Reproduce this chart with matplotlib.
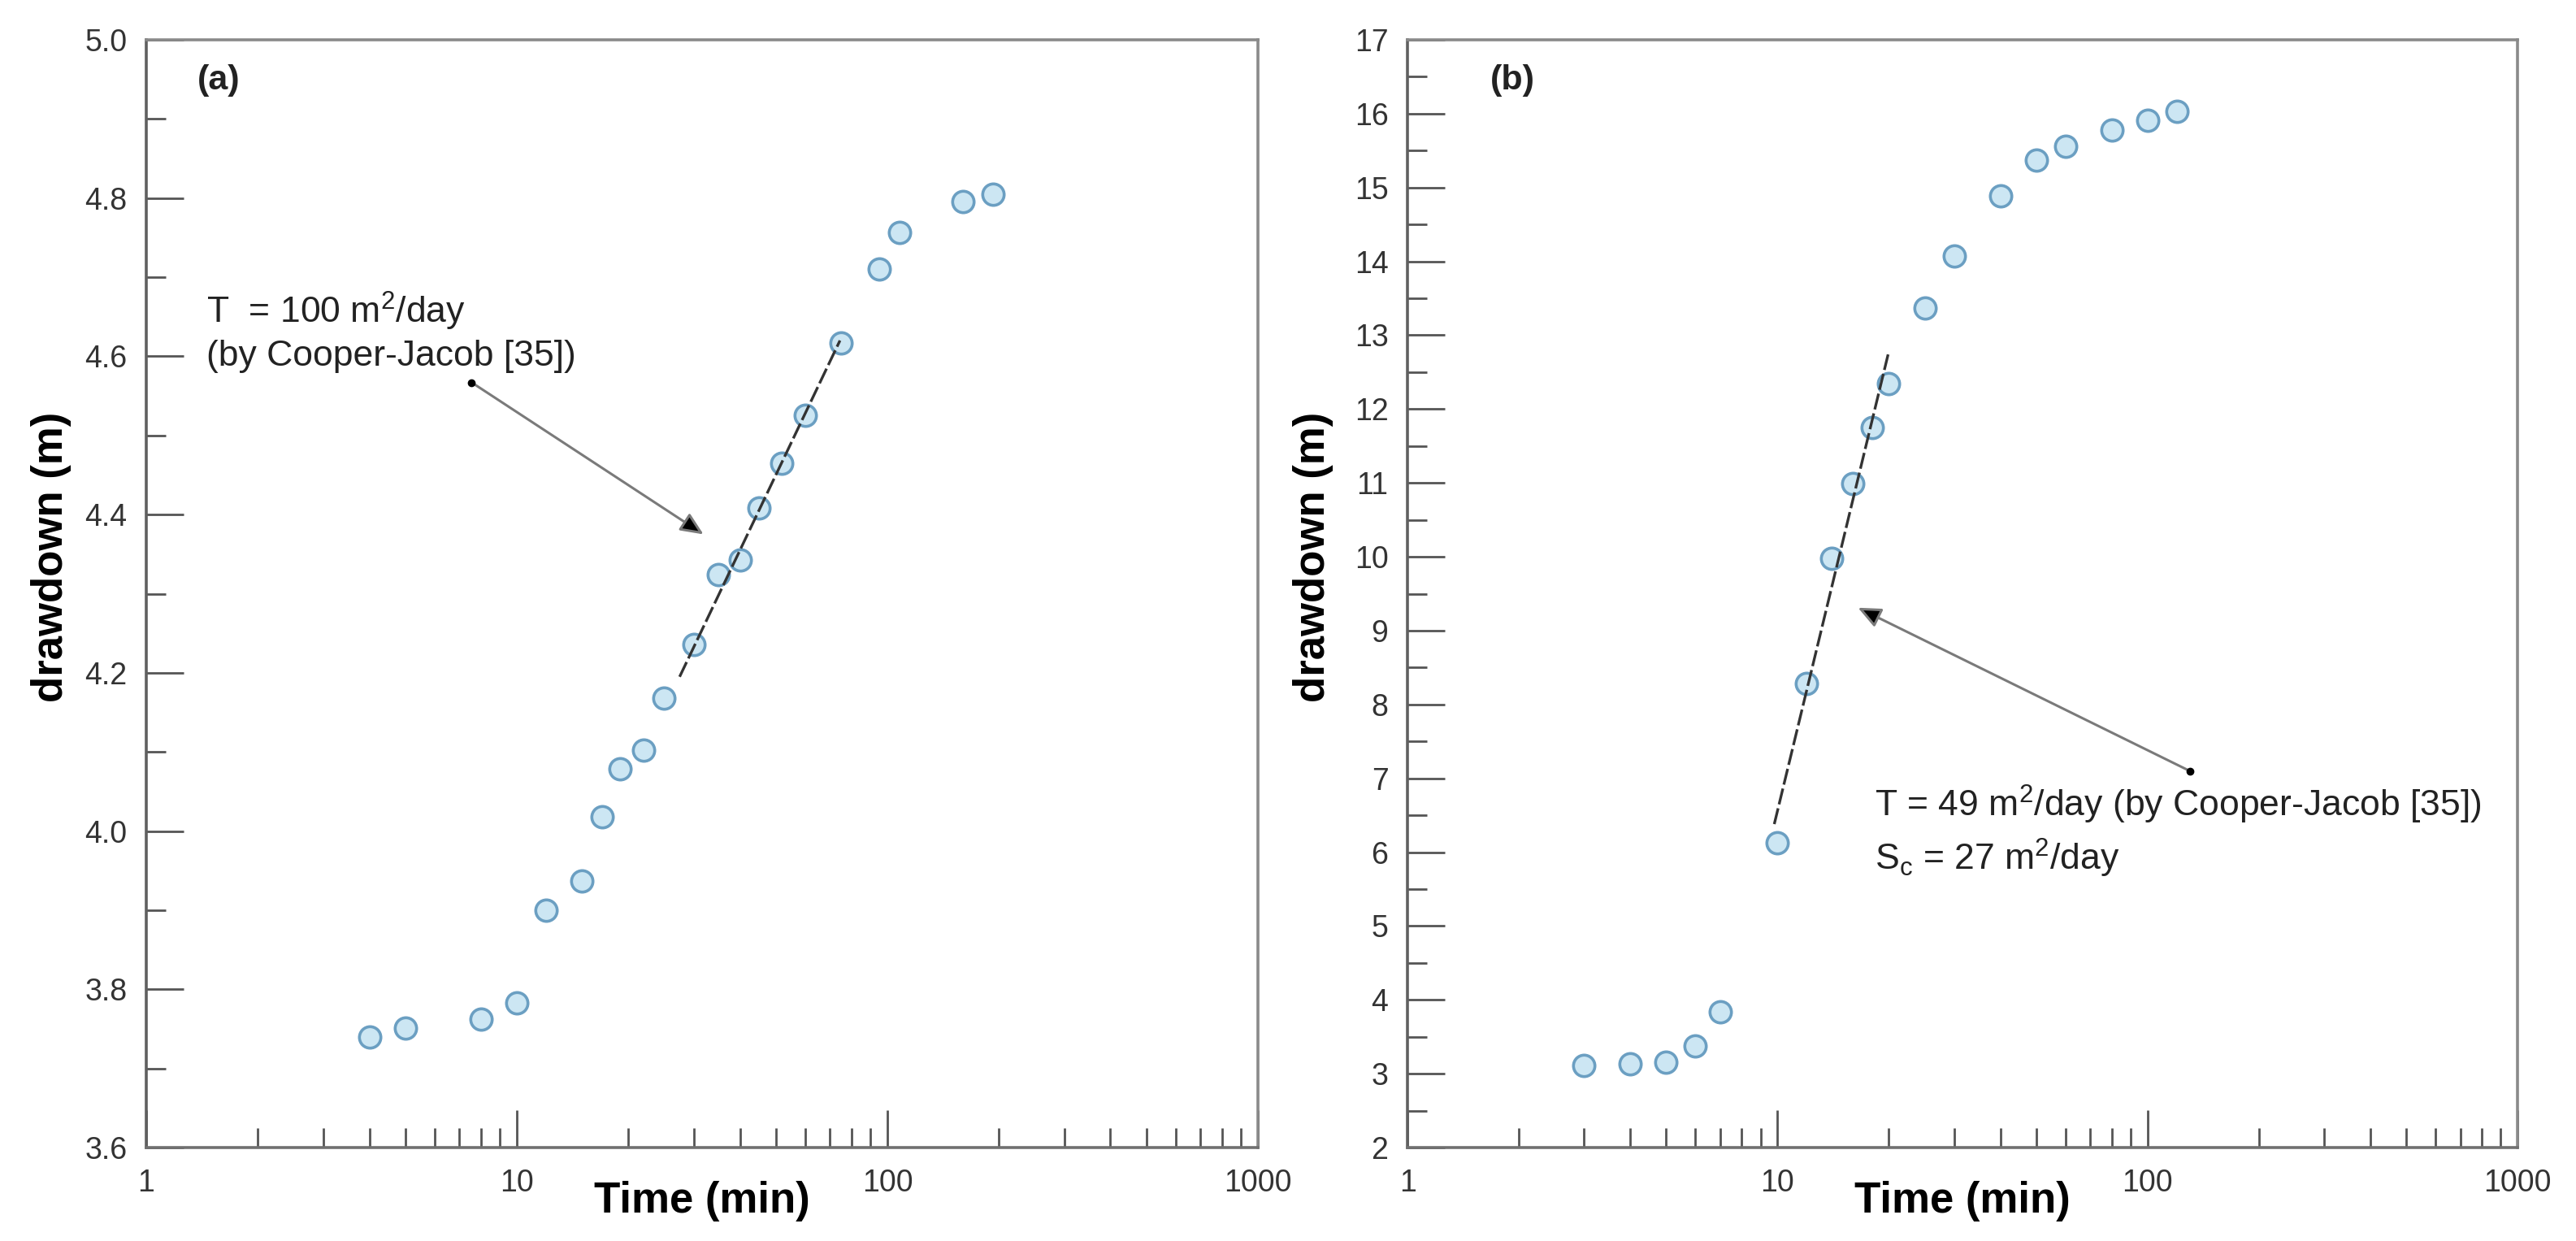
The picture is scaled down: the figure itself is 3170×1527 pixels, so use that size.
import matplotlib
matplotlib.use('Agg')
import matplotlib.pyplot as plt
from matplotlib.ticker import MultipleLocator, LogLocator, FixedFormatter, FixedLocator, NullFormatter

plt.rcParams['font.family'] = ['Liberation Sans', 'DejaVu Sans']
plt.rcParams['mathtext.fontset'] = 'custom'
plt.rcParams['mathtext.rm'] = 'Liberation Sans'

# panel (a)
time_a = [4, 5, 8, 10, 12, 15, 17, 19, 22, 25, 30, 35, 40, 45, 52, 60, 75, 95, 108, 160, 193]
draw_a = [3.740, 3.751, 3.762, 3.783, 3.900, 3.937, 4.018, 4.079, 4.102, 4.168, 4.236,
          4.324, 4.343, 4.408, 4.465, 4.525, 4.617, 4.710, 4.757, 4.796, 4.805]
fit_a_t = [27.5, 74.5]
fit_a_s = [4.195, 4.62]

# panel (b)
time_b = [3, 4, 5, 6, 7, 10, 12, 14, 16, 18, 20, 25, 30, 40, 50, 60, 80, 100, 120]
draw_b = [3.11, 3.135, 3.16, 3.375, 3.84, 6.125, 8.28, 9.98, 10.99, 11.75, 12.35,
          13.37, 14.07, 14.89, 15.37, 15.56, 15.78, 15.91, 16.03]
fit_b_t = [9.8, 19.9]
fit_b_s = [6.38, 12.74]

x_ticks = [1, 10, 100, 1000]
x_labels = ['1', '10', '100', '1000']

SPINE = '#707070'
FACE = '#cce6f3'
EDGE = '#6b9fc2'


def style_axes(ax, ymin, ymax, ymajor, yminor, yfmt):
    ax.set_xscale('log')
    ax.set_xlim(1, 1000)
    ax.set_ylim(ymin, ymax)
    ax.xaxis.set_major_locator(FixedLocator(x_ticks))
    ax.xaxis.set_major_formatter(FixedFormatter(x_labels))
    ax.xaxis.set_minor_locator(LogLocator(base=10, subs=range(2, 10), numticks=20))
    ax.xaxis.set_minor_formatter(NullFormatter())
    ax.yaxis.set_major_locator(MultipleLocator(ymajor))
    ax.yaxis.set_minor_locator(MultipleLocator(yminor))
    ax.yaxis.set_major_formatter(plt.FuncFormatter(lambda v, p: yfmt.format(v)))
    for s in ax.spines.values():
        s.set_color('#8a8a8a')
        s.set_linewidth(2.6)
    ax.spines['left'].set_color('#606060')
    ax.spines['bottom'].set_color('#707070')
    ax.tick_params(which='both', direction='in', top=False, right=False,
                   color='#555555', labelcolor='#333333')
    ax.tick_params(which='major', length=33, width=2.0, labelsize=27)
    ax.tick_params(axis='y', which='major', pad=17)
    ax.tick_params(axis='x', which='major', pad=19)
    ax.tick_params(which='minor', length=17, width=2.0)
    ax.set_xlabel('Time (min)', fontsize=38, fontweight='bold')
    ax.set_ylabel('drawdown (m)', fontsize=38, fontweight='bold')
    ax.xaxis.set_label_coords(0.5, -0.03)
    ax.yaxis.set_label_coords(-0.067, 0.533)


def add_arrow(ax, tail, head):
    ax.annotate('', xy=head, xytext=tail,
                arrowprops=dict(arrowstyle='-|>,head_length=1.7,head_width=0.75',
                                fc='black', ec='#7a7a7a', lw=2.2,
                                shrinkA=0, shrinkB=0))
    ax.plot([tail[0]], [tail[1]], 'o', color='black', ms=6, zorder=5)


fig = plt.figure(figsize=(31.7, 15.27), dpi=100)
ax1 = fig.add_axes([0.0568, 0.0753, 0.4315, 0.8926])
ax2 = fig.add_axes([0.5464, 0.0753, 0.4309, 0.8926])

# (a)
style_axes(ax1, 3.6, 5.0, 0.2, 0.1, '{:.1f}')
ax1.plot(time_a, draw_a, 'o', ms=19, mfc=FACE, mec=EDGE, mew=2.6, zorder=3)
ax1.plot(fit_a_t, fit_a_s, color='#333333', lw=2.4, ls=(0, (6, 1.5)), zorder=4)
ax1.text(1.45, 4.657, 'T  = 100 m$^2$/day', fontsize=32, va='center', color='#222222')
ax1.text(1.45, 4.600, '(by Cooper-Jacob [35])', fontsize=32, va='center', color='#222222')
add_arrow(ax1, (7.55, 4.567), (31.9, 4.375))
ax1.text(0.065, 0.963, '(a)', transform=ax1.transAxes, fontsize=31, fontweight='bold',
         va='center', ha='center', color='#222222')

# (b)
style_axes(ax2, 2, 17, 1, 0.5, '{:.0f}')
ax2.plot(time_b, draw_b, 'o', ms=19, mfc=FACE, mec=EDGE, mew=2.6, zorder=3)
ax2.plot(fit_b_t, fit_b_s, color='#333333', lw=2.4, ls=(0, (6, 1.5)), zorder=4)
ax2.text(18.3, 6.64, 'T = 49 m$^2$/day (by Cooper-Jacob [35])', fontsize=32, va='center',
         color='#222222')
ax2.text(18.3, 5.92, 'S$_\\mathrm{c}$ = 27 m$^2$/day', fontsize=32, va='center',
         color='#222222')
add_arrow(ax2, (130, 7.10), (16.5, 9.31))
ax2.text(0.095, 0.963, '(b)', transform=ax2.transAxes, fontsize=31, fontweight='bold',
         va='center', ha='center', color='#222222')

fig.savefig('out.png', dpi=100)
